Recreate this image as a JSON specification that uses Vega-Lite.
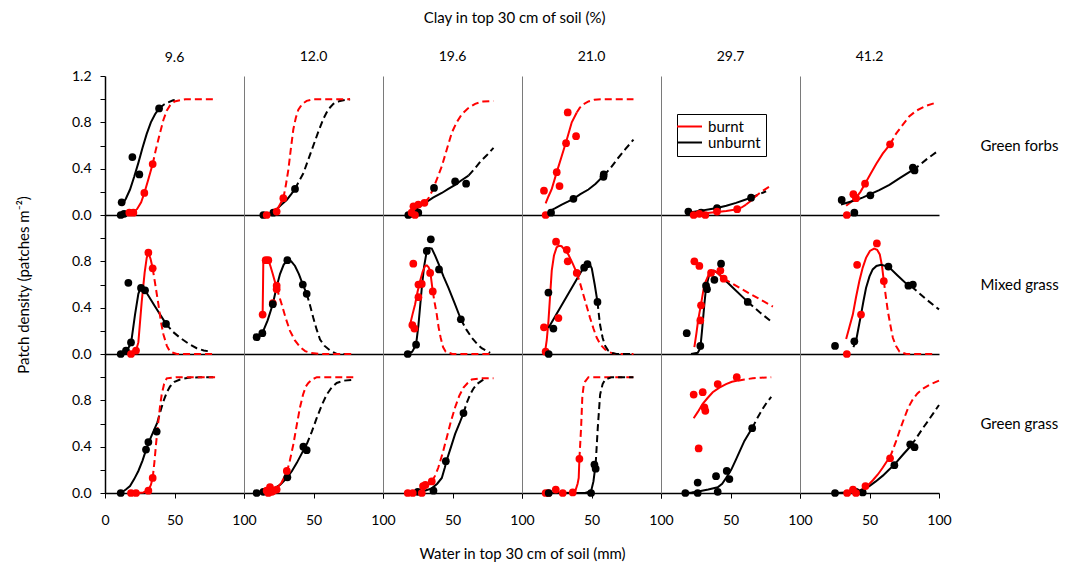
{
"$schema":"https://vega.github.io/schema/vega-lite/v6.json",
"padding":{"left":16,"top":11,"right":5,"bottom":5},
"config":{
 "font":"Lato",
 "view":{"stroke":null},
 "range":{"category":["#ff0000","#000000"]},
 "axis":{"grid":false,"domainColor":"#000000","domainWidth":1.5,"tickColor":"#000000","tickSize":5,"tickWidth":1,"labelFontSize":14,"labelColor":"#000000","labelFlush":false,"titleFontSize":15,"titleFontWeight":"normal","titleColor":"#000000"},
 "title":{"fontSize":14,"fontWeight":"normal","color":"#000000"},
 "legend":{"orient":"none","legendX":572,"legendY":38,"strokeColor":"#000000","fillColor":"#ffffff","padding":5,"labelFontSize":15,"labelColor":"#000000","symbolType":"M-2,0H2","symbolSize":156,"symbolStrokeWidth":2,"rowPadding":-2,"labelOffset":11,"cornerRadius":0}
},
"datasets":{
"forbs96":[
{"fire":"unburnt","kind":"point","w":11.3,"d":0},{"fire":"unburnt","kind":"point","w":13.7,"d":0.01},{"fire":"unburnt","kind":"point","w":12,"d":0.11},{"fire":"unburnt","kind":"point","w":19.7,"d":0.5},{"fire":"unburnt","kind":"point","w":24.7,"d":0.35},{"fire":"unburnt","kind":"point","w":38.9,"d":0.92},
{"fire":"burnt","kind":"point","w":17.5,"d":0.02},{"fire":"burnt","kind":"point","w":20.4,"d":0.02},{"fire":"burnt","kind":"point","w":28.3,"d":0.19},{"fire":"burnt","kind":"point","w":34.3,"d":0.44},
{"fire":"unburnt","kind":"fit","w":12,"d":0.08},{"fire":"unburnt","kind":"fit","w":15,"d":0.14},{"fire":"unburnt","kind":"fit","w":18,"d":0.22},{"fire":"unburnt","kind":"fit","w":21,"d":0.33},{"fire":"unburnt","kind":"fit","w":24,"d":0.45},{"fire":"unburnt","kind":"fit","w":27,"d":0.58},{"fire":"unburnt","kind":"fit","w":30,"d":0.7},{"fire":"unburnt","kind":"fit","w":33,"d":0.8},{"fire":"unburnt","kind":"fit","w":36,"d":0.87},{"fire":"unburnt","kind":"fit","w":38.9,"d":0.92},
{"fire":"unburnt","kind":"extrap","w":38.9,"d":0.92},{"fire":"unburnt","kind":"extrap","w":42,"d":0.95},{"fire":"unburnt","kind":"extrap","w":45,"d":0.97},{"fire":"unburnt","kind":"extrap","w":49,"d":0.99},{"fire":"unburnt","kind":"extrap","w":53,"d":1.0},
{"fire":"burnt","kind":"fit","w":17,"d":0.01},{"fire":"burnt","kind":"fit","w":20,"d":0.02},{"fire":"burnt","kind":"fit","w":23,"d":0.05},{"fire":"burnt","kind":"fit","w":26,"d":0.11},{"fire":"burnt","kind":"fit","w":28.3,"d":0.19},{"fire":"burnt","kind":"fit","w":31,"d":0.3},{"fire":"burnt","kind":"fit","w":34.3,"d":0.44},
{"fire":"burnt","kind":"extrap","w":34.3,"d":0.44},{"fire":"burnt","kind":"extrap","w":36.5,"d":0.56},{"fire":"burnt","kind":"extrap","w":39.6,"d":0.71},{"fire":"burnt","kind":"extrap","w":42,"d":0.82},{"fire":"burnt","kind":"extrap","w":44.4,"d":0.9},{"fire":"burnt","kind":"extrap","w":47,"d":0.95},{"fire":"burnt","kind":"extrap","w":50,"d":0.98},{"fire":"burnt","kind":"extrap","w":58,"d":1.0},{"fire":"burnt","kind":"extrap","w":80.5,"d":1.0}
],
"forbs120":[
{"fire":"unburnt","kind":"point","w":13.9,"d":0},{"fire":"unburnt","kind":"point","w":21.1,"d":0.02},{"fire":"unburnt","kind":"point","w":36.7,"d":0.225},
{"fire":"burnt","kind":"point","w":16.3,"d":0},{"fire":"burnt","kind":"point","w":23.5,"d":0.03},{"fire":"burnt","kind":"point","w":28.3,"d":0.145},
{"fire":"unburnt","kind":"fit","w":13.9,"d":0},{"fire":"unburnt","kind":"fit","w":18,"d":0.01},{"fire":"unburnt","kind":"fit","w":23.5,"d":0.05},{"fire":"unburnt","kind":"fit","w":27,"d":0.09},{"fire":"unburnt","kind":"fit","w":30.7,"d":0.13},{"fire":"unburnt","kind":"fit","w":34,"d":0.18},{"fire":"unburnt","kind":"fit","w":36.7,"d":0.225},
{"fire":"unburnt","kind":"extrap","w":36.7,"d":0.225},{"fire":"unburnt","kind":"extrap","w":39.5,"d":0.29},{"fire":"unburnt","kind":"extrap","w":42.7,"d":0.36},{"fire":"unburnt","kind":"extrap","w":46,"d":0.47},{"fire":"unburnt","kind":"extrap","w":49.9,"d":0.6},{"fire":"unburnt","kind":"extrap","w":53.5,"d":0.72},{"fire":"unburnt","kind":"extrap","w":57.1,"d":0.83},{"fire":"unburnt","kind":"extrap","w":60.5,"d":0.91},{"fire":"unburnt","kind":"extrap","w":64.3,"d":0.96},{"fire":"unburnt","kind":"extrap","w":69,"d":0.985},{"fire":"unburnt","kind":"extrap","w":76.3,"d":1.0},
{"fire":"burnt","kind":"fit","w":15.1,"d":0},{"fire":"burnt","kind":"fit","w":18,"d":0.01},{"fire":"burnt","kind":"fit","w":21.1,"d":0.02},{"fire":"burnt","kind":"fit","w":24.5,"d":0.06},{"fire":"burnt","kind":"fit","w":28.3,"d":0.145},
{"fire":"burnt","kind":"extrap","w":28.3,"d":0.145},{"fire":"burnt","kind":"extrap","w":30,"d":0.25},{"fire":"burnt","kind":"extrap","w":31.9,"d":0.39},{"fire":"burnt","kind":"extrap","w":33.7,"d":0.57},{"fire":"burnt","kind":"extrap","w":35.5,"d":0.74},{"fire":"burnt","kind":"extrap","w":37.3,"d":0.84},{"fire":"burnt","kind":"extrap","w":39.1,"d":0.91},{"fire":"burnt","kind":"extrap","w":42,"d":0.96},{"fire":"burnt","kind":"extrap","w":45.1,"d":0.985},{"fire":"burnt","kind":"extrap","w":50,"d":1.0},{"fire":"burnt","kind":"extrap","w":76.3,"d":1.0}
],
"forbs196":[
{"fire":"unburnt","kind":"point","w":18.2,"d":0},{"fire":"unburnt","kind":"point","w":21,"d":0.01},{"fire":"unburnt","kind":"point","w":25.4,"d":0.02},{"fire":"unburnt","kind":"point","w":36.7,"d":0.234},{"fire":"unburnt","kind":"point","w":51.9,"d":0.29},{"fire":"unburnt","kind":"point","w":59.8,"d":0.27},
{"fire":"burnt","kind":"point","w":21.9,"d":0.075},{"fire":"burnt","kind":"point","w":25.4,"d":0.09},{"fire":"burnt","kind":"point","w":29.8,"d":0.105},{"fire":"burnt","kind":"point","w":20.6,"d":0.02},{"fire":"burnt","kind":"point","w":23,"d":0},
{"fire":"unburnt","kind":"fit","w":18.2,"d":0},{"fire":"unburnt","kind":"fit","w":22,"d":0.04},{"fire":"unburnt","kind":"fit","w":26,"d":0.07},{"fire":"unburnt","kind":"fit","w":30.3,"d":0.105},{"fire":"unburnt","kind":"fit","w":36,"d":0.15},{"fire":"unburnt","kind":"fit","w":42.3,"d":0.19},{"fire":"unburnt","kind":"fit","w":47,"d":0.225},{"fire":"unburnt","kind":"fit","w":51.9,"d":0.26},{"fire":"unburnt","kind":"fit","w":56.5,"d":0.3},{"fire":"unburnt","kind":"fit","w":61.5,"d":0.34},
{"fire":"unburnt","kind":"extrap","w":61.5,"d":0.34},{"fire":"unburnt","kind":"extrap","w":66,"d":0.4},{"fire":"unburnt","kind":"extrap","w":70,"d":0.46},{"fire":"unburnt","kind":"extrap","w":75,"d":0.52},{"fire":"unburnt","kind":"extrap","w":79.5,"d":0.58},
{"fire":"burnt","kind":"fit","w":18,"d":0.01},{"fire":"burnt","kind":"fit","w":20.5,"d":0.03},{"fire":"burnt","kind":"fit","w":22,"d":0.06},{"fire":"burnt","kind":"fit","w":25,"d":0.08},{"fire":"burnt","kind":"fit","w":29.8,"d":0.11},
{"fire":"burnt","kind":"extrap","w":29.8,"d":0.11},{"fire":"burnt","kind":"extrap","w":32.5,"d":0.14},{"fire":"burnt","kind":"extrap","w":35.1,"d":0.2},{"fire":"burnt","kind":"extrap","w":38.5,"d":0.3},{"fire":"burnt","kind":"extrap","w":42.3,"d":0.42},{"fire":"burnt","kind":"extrap","w":46,"d":0.57},{"fire":"burnt","kind":"extrap","w":49.5,"d":0.71},{"fire":"burnt","kind":"extrap","w":53,"d":0.8},{"fire":"burnt","kind":"extrap","w":56.7,"d":0.87},{"fire":"burnt","kind":"extrap","w":61,"d":0.92},{"fire":"burnt","kind":"extrap","w":66.3,"d":0.96},{"fire":"burnt","kind":"extrap","w":72,"d":0.98},{"fire":"burnt","kind":"extrap","w":79.5,"d":0.985}
],
"forbs210":[
{"fire":"burnt","kind":"point","w":32.9,"d":0.885},{"fire":"burnt","kind":"point","w":38.9,"d":0.68},{"fire":"burnt","kind":"point","w":31.7,"d":0.62},{"fire":"burnt","kind":"point","w":25,"d":0.37},{"fire":"burnt","kind":"point","w":27,"d":0.25},{"fire":"burnt","kind":"point","w":15.8,"d":0.21},{"fire":"burnt","kind":"point","w":17,"d":0},
{"fire":"unburnt","kind":"point","w":20.9,"d":0.02},{"fire":"unburnt","kind":"point","w":37,"d":0.14},{"fire":"unburnt","kind":"point","w":58.8,"d":0.35},{"fire":"unburnt","kind":"point","w":58.6,"d":0.33},
{"fire":"burnt","kind":"fit","w":17,"d":0.1},{"fire":"burnt","kind":"fit","w":19,"d":0.16},{"fire":"burnt","kind":"fit","w":21.3,"d":0.22},{"fire":"burnt","kind":"fit","w":25,"d":0.37},{"fire":"burnt","kind":"fit","w":28.6,"d":0.51},{"fire":"burnt","kind":"fit","w":32.2,"d":0.65},{"fire":"burnt","kind":"fit","w":35.8,"d":0.8},{"fire":"burnt","kind":"fit","w":39.4,"d":0.885},
{"fire":"burnt","kind":"extrap","w":39.4,"d":0.885},{"fire":"burnt","kind":"extrap","w":41.5,"d":0.925},{"fire":"burnt","kind":"extrap","w":44,"d":0.955},{"fire":"burnt","kind":"extrap","w":47.8,"d":0.98},{"fire":"burnt","kind":"extrap","w":52,"d":0.995},{"fire":"burnt","kind":"extrap","w":57.4,"d":1.0},{"fire":"burnt","kind":"extrap","w":80.2,"d":1.0},
{"fire":"unburnt","kind":"fit","w":19,"d":0.03},{"fire":"unburnt","kind":"fit","w":24,"d":0.06},{"fire":"unburnt","kind":"fit","w":28.6,"d":0.09},{"fire":"unburnt","kind":"fit","w":33,"d":0.115},{"fire":"unburnt","kind":"fit","w":37,"d":0.14},{"fire":"unburnt","kind":"fit","w":42,"d":0.18},{"fire":"unburnt","kind":"fit","w":47.8,"d":0.22},{"fire":"unburnt","kind":"fit","w":53,"d":0.27},{"fire":"unburnt","kind":"fit","w":58.8,"d":0.34},
{"fire":"unburnt","kind":"extrap","w":58.8,"d":0.34},{"fire":"unburnt","kind":"extrap","w":64,"d":0.41},{"fire":"unburnt","kind":"extrap","w":69,"d":0.49},{"fire":"unburnt","kind":"extrap","w":74.5,"d":0.57},{"fire":"unburnt","kind":"extrap","w":80.2,"d":0.65}
],
"forbs297":[
{"fire":"unburnt","kind":"point","w":19.7,"d":0.03},{"fire":"unburnt","kind":"point","w":28.8,"d":0.02},{"fire":"unburnt","kind":"point","w":40.3,"d":0.06},{"fire":"unburnt","kind":"point","w":64.8,"d":0.15},
{"fire":"burnt","kind":"point","w":23.5,"d":0},{"fire":"burnt","kind":"point","w":27.6,"d":0.01},{"fire":"burnt","kind":"point","w":31.9,"d":0},{"fire":"burnt","kind":"point","w":40.3,"d":0.03},{"fire":"burnt","kind":"point","w":54.8,"d":0.05},
{"fire":"unburnt","kind":"fit","w":19.7,"d":0.02},{"fire":"unburnt","kind":"fit","w":25,"d":0.03},{"fire":"unburnt","kind":"fit","w":30,"d":0.04},{"fire":"unburnt","kind":"fit","w":35,"d":0.05},{"fire":"unburnt","kind":"fit","w":40.3,"d":0.06},{"fire":"unburnt","kind":"fit","w":47,"d":0.08},{"fire":"unburnt","kind":"fit","w":54,"d":0.105},{"fire":"unburnt","kind":"fit","w":60,"d":0.13},{"fire":"unburnt","kind":"fit","w":64.8,"d":0.15},
{"fire":"unburnt","kind":"extrap","w":64.8,"d":0.15},{"fire":"unburnt","kind":"extrap","w":70,"d":0.175},{"fire":"unburnt","kind":"extrap","w":75.6,"d":0.205},
{"fire":"burnt","kind":"fit","w":23.5,"d":0.01},{"fire":"burnt","kind":"fit","w":30,"d":0.015},{"fire":"burnt","kind":"fit","w":35,"d":0.02},{"fire":"burnt","kind":"fit","w":40.3,"d":0.025},{"fire":"burnt","kind":"fit","w":47,"d":0.035},{"fire":"burnt","kind":"fit","w":54.8,"d":0.05},{"fire":"burnt","kind":"fit","w":58,"d":0.065},{"fire":"burnt","kind":"fit","w":61.2,"d":0.09},
{"fire":"burnt","kind":"extrap","w":61.2,"d":0.09},{"fire":"burnt","kind":"extrap","w":65,"d":0.125},{"fire":"burnt","kind":"extrap","w":68.4,"d":0.165},{"fire":"burnt","kind":"extrap","w":72,"d":0.2},{"fire":"burnt","kind":"extrap","w":76,"d":0.23},{"fire":"burnt","kind":"extrap","w":79.3,"d":0.255}
],
"forbs412":[
{"fire":"burnt","kind":"point","w":64.8,"d":0.61},{"fire":"burnt","kind":"point","w":46.8,"d":0.27},{"fire":"burnt","kind":"point","w":38.4,"d":0.18},{"fire":"burnt","kind":"point","w":40.3,"d":0.145},{"fire":"burnt","kind":"point","w":33.7,"d":0},
{"fire":"unburnt","kind":"point","w":30,"d":0.13},{"fire":"unburnt","kind":"point","w":50.6,"d":0.17},{"fire":"unburnt","kind":"point","w":81.2,"d":0.41},{"fire":"unburnt","kind":"point","w":82.4,"d":0.385},{"fire":"unburnt","kind":"point","w":39.1,"d":0.02},
{"fire":"burnt","kind":"fit","w":33.2,"d":0.08},{"fire":"burnt","kind":"fit","w":36.5,"d":0.11},{"fire":"burnt","kind":"fit","w":40.3,"d":0.15},{"fire":"burnt","kind":"fit","w":43.5,"d":0.2},{"fire":"burnt","kind":"fit","w":46.8,"d":0.27},{"fire":"burnt","kind":"fit","w":50.5,"d":0.35},{"fire":"burnt","kind":"fit","w":54.8,"d":0.44},{"fire":"burnt","kind":"fit","w":59.5,"d":0.53},{"fire":"burnt","kind":"fit","w":64.8,"d":0.61},
{"fire":"burnt","kind":"extrap","w":64.8,"d":0.61},{"fire":"burnt","kind":"extrap","w":69,"d":0.7},{"fire":"burnt","kind":"extrap","w":74,"d":0.78},{"fire":"burnt","kind":"extrap","w":78.5,"d":0.85},{"fire":"burnt","kind":"extrap","w":83.6,"d":0.9},{"fire":"burnt","kind":"extrap","w":90,"d":0.94},{"fire":"burnt","kind":"extrap","w":98,"d":0.97},
{"fire":"unburnt","kind":"fit","w":29.5,"d":0.09},{"fire":"unburnt","kind":"fit","w":35,"d":0.11},{"fire":"unburnt","kind":"fit","w":40.3,"d":0.13},{"fire":"unburnt","kind":"fit","w":45,"d":0.15},{"fire":"unburnt","kind":"fit","w":50.6,"d":0.18},{"fire":"unburnt","kind":"fit","w":57,"d":0.215},{"fire":"unburnt","kind":"fit","w":64.3,"d":0.26},{"fire":"unburnt","kind":"fit","w":72,"d":0.32},{"fire":"unburnt","kind":"fit","w":81.2,"d":0.39},
{"fire":"unburnt","kind":"extrap","w":81.2,"d":0.39},{"fire":"unburnt","kind":"extrap","w":86,"d":0.43},{"fire":"unburnt","kind":"extrap","w":91,"d":0.48},{"fire":"unburnt","kind":"extrap","w":95.5,"d":0.52},{"fire":"unburnt","kind":"extrap","w":100,"d":0.56}
],
"mixed96":[
{"fire":"unburnt","kind":"point","w":11.3,"d":0},{"fire":"unburnt","kind":"point","w":15.1,"d":0.03},{"fire":"unburnt","kind":"point","w":18.7,"d":0.1},{"fire":"unburnt","kind":"point","w":16.8,"d":0.615},{"fire":"unburnt","kind":"point","w":25.9,"d":0.57},{"fire":"unburnt","kind":"point","w":28.8,"d":0.55},{"fire":"unburnt","kind":"point","w":43.9,"d":0.26},
{"fire":"burnt","kind":"point","w":18.7,"d":0},{"fire":"burnt","kind":"point","w":22.3,"d":0.03},{"fire":"burnt","kind":"point","w":31.2,"d":0.875},{"fire":"burnt","kind":"point","w":34.3,"d":0.74},
{"fire":"unburnt","kind":"fit","w":11.3,"d":0},{"fire":"unburnt","kind":"fit","w":15.1,"d":0.02},{"fire":"unburnt","kind":"fit","w":18.7,"d":0.09},{"fire":"unburnt","kind":"fit","w":21.6,"d":0.34},{"fire":"unburnt","kind":"fit","w":24,"d":0.52},{"fire":"unburnt","kind":"fit","w":25.6,"d":0.57},{"fire":"unburnt","kind":"fit","w":28.8,"d":0.55},{"fire":"unburnt","kind":"fit","w":36,"d":0.41},{"fire":"unburnt","kind":"fit","w":43.9,"d":0.26},
{"fire":"unburnt","kind":"extrap","w":43.9,"d":0.26},{"fire":"unburnt","kind":"extrap","w":49,"d":0.19},{"fire":"unburnt","kind":"extrap","w":54,"d":0.14},{"fire":"unburnt","kind":"extrap","w":60,"d":0.09},{"fire":"unburnt","kind":"extrap","w":66,"d":0.05},{"fire":"unburnt","kind":"extrap","w":71,"d":0.03},{"fire":"unburnt","kind":"extrap","w":76.8,"d":0.02},
{"fire":"burnt","kind":"fit","w":18.7,"d":0},{"fire":"burnt","kind":"fit","w":22.3,"d":0.03},{"fire":"burnt","kind":"fit","w":24,"d":0.1},{"fire":"burnt","kind":"fit","w":26.4,"d":0.45},{"fire":"burnt","kind":"fit","w":28.5,"d":0.7},{"fire":"burnt","kind":"fit","w":30,"d":0.83},{"fire":"burnt","kind":"fit","w":31.2,"d":0.875},{"fire":"burnt","kind":"fit","w":32.8,"d":0.82},{"fire":"burnt","kind":"fit","w":34.3,"d":0.74},
{"fire":"burnt","kind":"extrap","w":34.3,"d":0.74},{"fire":"burnt","kind":"extrap","w":36.3,"d":0.59},{"fire":"burnt","kind":"extrap","w":38.4,"d":0.43},{"fire":"burnt","kind":"extrap","w":40.2,"d":0.28},{"fire":"burnt","kind":"extrap","w":42,"d":0.17},{"fire":"burnt","kind":"extrap","w":44.5,"d":0.07},{"fire":"burnt","kind":"extrap","w":46.8,"d":0.02},{"fire":"burnt","kind":"extrap","w":51.6,"d":0},{"fire":"burnt","kind":"extrap","w":78,"d":0}
],
"mixed120":[
{"fire":"burnt","kind":"point","w":15.6,"d":0.81},{"fire":"burnt","kind":"point","w":17.5,"d":0.81},{"fire":"burnt","kind":"point","w":13.4,"d":0.34},{"fire":"burnt","kind":"point","w":20.7,"d":0.44},{"fire":"burnt","kind":"point","w":23.5,"d":0.59},{"fire":"burnt","kind":"point","w":23.5,"d":0.56},
{"fire":"unburnt","kind":"point","w":9.1,"d":0.145},{"fire":"unburnt","kind":"point","w":13.2,"d":0.18},{"fire":"unburnt","kind":"point","w":20.7,"d":0.43},{"fire":"unburnt","kind":"point","w":31.2,"d":0.81},{"fire":"unburnt","kind":"point","w":42.3,"d":0.6},{"fire":"unburnt","kind":"point","w":45.1,"d":0.52},
{"fire":"unburnt","kind":"fit","w":9.1,"d":0.145},{"fire":"unburnt","kind":"fit","w":13.2,"d":0.18},{"fire":"unburnt","kind":"fit","w":17,"d":0.29},{"fire":"unburnt","kind":"fit","w":20.7,"d":0.43},{"fire":"unburnt","kind":"fit","w":23.5,"d":0.58},{"fire":"unburnt","kind":"fit","w":25.9,"d":0.69},{"fire":"unburnt","kind":"fit","w":28.5,"d":0.77},{"fire":"unburnt","kind":"fit","w":31.2,"d":0.81},{"fire":"unburnt","kind":"fit","w":34,"d":0.8},{"fire":"unburnt","kind":"fit","w":36.7,"d":0.76},{"fire":"unburnt","kind":"fit","w":39.5,"d":0.69},{"fire":"unburnt","kind":"fit","w":42.3,"d":0.6},{"fire":"unburnt","kind":"fit","w":45.1,"d":0.52},
{"fire":"unburnt","kind":"extrap","w":45.1,"d":0.52},{"fire":"unburnt","kind":"extrap","w":47.5,"d":0.42},{"fire":"unburnt","kind":"extrap","w":49.9,"d":0.31},{"fire":"unburnt","kind":"extrap","w":52.3,"d":0.21},{"fire":"unburnt","kind":"extrap","w":54.7,"d":0.125},{"fire":"unburnt","kind":"extrap","w":58,"d":0.07},{"fire":"unburnt","kind":"extrap","w":61.9,"d":0.03},{"fire":"unburnt","kind":"extrap","w":66.7,"d":0},{"fire":"unburnt","kind":"extrap","w":78.9,"d":0},
{"fire":"burnt","kind":"fit","w":13.4,"d":0.34},{"fire":"burnt","kind":"fit","w":13.7,"d":0.6},{"fire":"burnt","kind":"fit","w":13.9,"d":0.81},{"fire":"burnt","kind":"fit","w":17.5,"d":0.81},{"fire":"burnt","kind":"fit","w":19,"d":0.76},{"fire":"burnt","kind":"fit","w":20.7,"d":0.69},{"fire":"burnt","kind":"fit","w":23.5,"d":0.57},
{"fire":"burnt","kind":"extrap","w":23.5,"d":0.57},{"fire":"burnt","kind":"extrap","w":25.3,"d":0.5},{"fire":"burnt","kind":"extrap","w":27.1,"d":0.43},{"fire":"burnt","kind":"extrap","w":30,"d":0.31},{"fire":"burnt","kind":"extrap","w":33.1,"d":0.2},{"fire":"burnt","kind":"extrap","w":36.5,"d":0.12},{"fire":"burnt","kind":"extrap","w":40.3,"d":0.06},{"fire":"burnt","kind":"extrap","w":44,"d":0.025},{"fire":"burnt","kind":"extrap","w":47.5,"d":0.01},{"fire":"burnt","kind":"extrap","w":55,"d":0},{"fire":"burnt","kind":"extrap","w":78.9,"d":0}
],
"mixed196":[
{"fire":"unburnt","kind":"point","w":17.8,"d":0},{"fire":"unburnt","kind":"point","w":23.8,"d":0.08},{"fire":"unburnt","kind":"point","w":31.5,"d":0.89},{"fire":"unburnt","kind":"point","w":34.4,"d":0.99},{"fire":"unburnt","kind":"point","w":40.3,"d":0.73},{"fire":"unburnt","kind":"point","w":56,"d":0.3},
{"fire":"burnt","kind":"point","w":21.8,"d":0.78},{"fire":"burnt","kind":"point","w":21.1,"d":0.25},{"fire":"burnt","kind":"point","w":22.6,"d":0.22},{"fire":"burnt","kind":"point","w":25.5,"d":0.49},{"fire":"burnt","kind":"point","w":25.5,"d":0.6},{"fire":"burnt","kind":"point","w":27.9,"d":0.605},{"fire":"burnt","kind":"point","w":33.9,"d":0.7},{"fire":"burnt","kind":"point","w":35.8,"d":0.54},
{"fire":"unburnt","kind":"fit","w":17.8,"d":0},{"fire":"unburnt","kind":"fit","w":21,"d":0.02},{"fire":"unburnt","kind":"fit","w":23.8,"d":0.08},{"fire":"unburnt","kind":"fit","w":25.5,"d":0.25},{"fire":"unburnt","kind":"fit","w":27.9,"d":0.57},{"fire":"unburnt","kind":"fit","w":29.5,"d":0.75},{"fire":"unburnt","kind":"fit","w":31.5,"d":0.89},{"fire":"unburnt","kind":"fit","w":33.3,"d":0.915},{"fire":"unburnt","kind":"fit","w":35.1,"d":0.91},{"fire":"unburnt","kind":"fit","w":37.5,"d":0.85},{"fire":"unburnt","kind":"fit","w":40.3,"d":0.77},{"fire":"unburnt","kind":"fit","w":43.5,"d":0.67},{"fire":"unburnt","kind":"fit","w":47.1,"d":0.57},{"fire":"unburnt","kind":"fit","w":51.5,"d":0.44},{"fire":"unburnt","kind":"fit","w":56,"d":0.3},
{"fire":"unburnt","kind":"extrap","w":56,"d":0.3},{"fire":"unburnt","kind":"extrap","w":60,"d":0.21},{"fire":"unburnt","kind":"extrap","w":63.9,"d":0.14},{"fire":"unburnt","kind":"extrap","w":67.5,"d":0.09},{"fire":"unburnt","kind":"extrap","w":71,"d":0.05},{"fire":"unburnt","kind":"extrap","w":77.1,"d":0.01},
{"fire":"burnt","kind":"fit","w":19.4,"d":0.25},{"fire":"burnt","kind":"fit","w":21.2,"d":0.34},{"fire":"burnt","kind":"fit","w":23.1,"d":0.43},{"fire":"burnt","kind":"fit","w":24.9,"d":0.54},{"fire":"burnt","kind":"fit","w":26.7,"d":0.63},{"fire":"burnt","kind":"fit","w":28.5,"d":0.71},{"fire":"burnt","kind":"fit","w":30.3,"d":0.76},{"fire":"burnt","kind":"fit","w":31.5,"d":0.765},{"fire":"burnt","kind":"fit","w":32.7,"d":0.75},{"fire":"burnt","kind":"fit","w":33.9,"d":0.72},{"fire":"burnt","kind":"fit","w":35.8,"d":0.54},
{"fire":"burnt","kind":"extrap","w":35.8,"d":0.54},{"fire":"burnt","kind":"extrap","w":37.2,"d":0.44},{"fire":"burnt","kind":"extrap","w":38.7,"d":0.34},{"fire":"burnt","kind":"extrap","w":40,"d":0.23},{"fire":"burnt","kind":"extrap","w":41.5,"d":0.14},{"fire":"burnt","kind":"extrap","w":43.2,"d":0.06},{"fire":"burnt","kind":"extrap","w":45.1,"d":0.02},{"fire":"burnt","kind":"extrap","w":49.9,"d":0},{"fire":"burnt","kind":"extrap","w":77.1,"d":0}
],
"mixed210":[
{"fire":"burnt","kind":"point","w":24.5,"d":0.97},{"fire":"burnt","kind":"point","w":32.2,"d":0.9},{"fire":"burnt","kind":"point","w":32.9,"d":0.8},{"fire":"burnt","kind":"point","w":39.4,"d":0.7},{"fire":"burnt","kind":"point","w":26.2,"d":0.31},{"fire":"burnt","kind":"point","w":15.8,"d":0.23},{"fire":"burnt","kind":"point","w":17,"d":0.02},
{"fire":"unburnt","kind":"point","w":19,"d":0.53},{"fire":"unburnt","kind":"point","w":22.6,"d":0.22},{"fire":"unburnt","kind":"point","w":19.2,"d":0},{"fire":"unburnt","kind":"point","w":44.7,"d":0.745},{"fire":"unburnt","kind":"point","w":47.1,"d":0.775},{"fire":"unburnt","kind":"point","w":54.3,"d":0.45},
{"fire":"burnt","kind":"fit","w":16.6,"d":0.02},{"fire":"burnt","kind":"fit","w":17.8,"d":0.12},{"fire":"burnt","kind":"fit","w":19,"d":0.28},{"fire":"burnt","kind":"fit","w":20.2,"d":0.5},{"fire":"burnt","kind":"fit","w":21.4,"d":0.72},{"fire":"burnt","kind":"fit","w":23,"d":0.85},{"fire":"burnt","kind":"fit","w":24.9,"d":0.92},{"fire":"burnt","kind":"fit","w":26.5,"d":0.935},{"fire":"burnt","kind":"fit","w":28.5,"d":0.93},{"fire":"burnt","kind":"fit","w":31,"d":0.895},{"fire":"burnt","kind":"fit","w":33.3,"d":0.86},{"fire":"burnt","kind":"fit","w":36.5,"d":0.78},{"fire":"burnt","kind":"fit","w":39.4,"d":0.7},
{"fire":"burnt","kind":"extrap","w":39.4,"d":0.7},{"fire":"burnt","kind":"extrap","w":41.8,"d":0.61},{"fire":"burnt","kind":"extrap","w":44.2,"d":0.51},{"fire":"burnt","kind":"extrap","w":46.6,"d":0.41},{"fire":"burnt","kind":"extrap","w":49,"d":0.31},{"fire":"burnt","kind":"extrap","w":51.4,"d":0.22},{"fire":"burnt","kind":"extrap","w":53.8,"d":0.14},{"fire":"burnt","kind":"extrap","w":56.5,"d":0.08},{"fire":"burnt","kind":"extrap","w":59.8,"d":0.04},{"fire":"burnt","kind":"extrap","w":63,"d":0.015},{"fire":"burnt","kind":"extrap","w":67,"d":0},{"fire":"burnt","kind":"extrap","w":80.2,"d":0},
{"fire":"unburnt","kind":"fit","w":19,"d":0.225},{"fire":"unburnt","kind":"fit","w":44.2,"d":0.745},{"fire":"unburnt","kind":"fit","w":45.5,"d":0.775},{"fire":"unburnt","kind":"fit","w":47.1,"d":0.79},{"fire":"unburnt","kind":"fit","w":48.7,"d":0.775},{"fire":"unburnt","kind":"fit","w":50.2,"d":0.74},{"fire":"unburnt","kind":"fit","w":52.3,"d":0.6},{"fire":"unburnt","kind":"fit","w":54.3,"d":0.45},
{"fire":"unburnt","kind":"extrap","w":54.3,"d":0.45},{"fire":"unburnt","kind":"extrap","w":55.2,"d":0.35},{"fire":"unburnt","kind":"extrap","w":56.2,"d":0.25},{"fire":"unburnt","kind":"extrap","w":58,"d":0.14},{"fire":"unburnt","kind":"extrap","w":59.8,"d":0.07},{"fire":"unburnt","kind":"extrap","w":62,"d":0.03},{"fire":"unburnt","kind":"extrap","w":64.6,"d":0.01},{"fire":"unburnt","kind":"extrap","w":68,"d":0},{"fire":"unburnt","kind":"extrap","w":79,"d":0}
],
"mixed297":[
{"fire":"burnt","kind":"point","w":24,"d":0.8},{"fire":"burnt","kind":"point","w":27.6,"d":0.76},{"fire":"burnt","kind":"point","w":28.8,"d":0.42},{"fire":"burnt","kind":"point","w":28.3,"d":0.29},{"fire":"burnt","kind":"point","w":36,"d":0.7},{"fire":"burnt","kind":"point","w":42.7,"d":0.72},{"fire":"burnt","kind":"point","w":45.1,"d":0.65},
{"fire":"unburnt","kind":"point","w":18.5,"d":0.18},{"fire":"unburnt","kind":"point","w":28.3,"d":0.07},{"fire":"unburnt","kind":"point","w":32.4,"d":0.59},{"fire":"unburnt","kind":"point","w":33.1,"d":0.56},{"fire":"unburnt","kind":"point","w":38.4,"d":0.64},{"fire":"unburnt","kind":"point","w":43.2,"d":0.78},{"fire":"unburnt","kind":"point","w":62.4,"d":0.45},
{"fire":"unburnt","kind":"fit","w":21.6,"d":0},{"fire":"unburnt","kind":"fit","w":26.4,"d":0.01},{"fire":"unburnt","kind":"fit","w":28.3,"d":0.05},{"fire":"unburnt","kind":"fit","w":29.5,"d":0.2},{"fire":"unburnt","kind":"fit","w":31.2,"d":0.43},{"fire":"unburnt","kind":"fit","w":32.4,"d":0.57},{"fire":"unburnt","kind":"fit","w":34.8,"d":0.69},{"fire":"unburnt","kind":"fit","w":37.7,"d":0.72},{"fire":"unburnt","kind":"fit","w":40.8,"d":0.7},{"fire":"unburnt","kind":"fit","w":51,"d":0.58},{"fire":"unburnt","kind":"fit","w":62.4,"d":0.45},
{"fire":"unburnt","kind":"extrap","w":62.4,"d":0.45},{"fire":"unburnt","kind":"extrap","w":71,"d":0.36},{"fire":"unburnt","kind":"extrap","w":80.5,"d":0.27},
{"fire":"burnt","kind":"fit","w":24,"d":0.06},{"fire":"burnt","kind":"fit","w":25.5,"d":0.18},{"fire":"burnt","kind":"fit","w":26.7,"d":0.29},{"fire":"burnt","kind":"fit","w":28.8,"d":0.43},{"fire":"burnt","kind":"fit","w":31.2,"d":0.6},{"fire":"burnt","kind":"fit","w":34.8,"d":0.7},{"fire":"burnt","kind":"fit","w":38.4,"d":0.72},{"fire":"burnt","kind":"fit","w":41.5,"d":0.69},{"fire":"burnt","kind":"fit","w":45.1,"d":0.65},
{"fire":"burnt","kind":"extrap","w":45.1,"d":0.65},{"fire":"burnt","kind":"extrap","w":62.5,"d":0.53},{"fire":"burnt","kind":"extrap","w":80.5,"d":0.41}
],
"mixed412":[
{"fire":"burnt","kind":"point","w":55.3,"d":0.955},{"fire":"burnt","kind":"point","w":41.1,"d":0.77},{"fire":"burnt","kind":"point","w":60.3,"d":0.63},{"fire":"burnt","kind":"point","w":43.9,"d":0.34},{"fire":"burnt","kind":"point","w":33.7,"d":0},
{"fire":"unburnt","kind":"point","w":25.2,"d":0.07},{"fire":"unburnt","kind":"point","w":39.1,"d":0.11},{"fire":"unburnt","kind":"point","w":63.6,"d":0.755},{"fire":"unburnt","kind":"point","w":78,"d":0.59},{"fire":"unburnt","kind":"point","w":81.2,"d":0.6},
{"fire":"burnt","kind":"fit","w":33.2,"d":0.13},{"fire":"burnt","kind":"fit","w":35.5,"d":0.23},{"fire":"burnt","kind":"fit","w":38,"d":0.34},{"fire":"burnt","kind":"fit","w":40.3,"d":0.49},{"fire":"burnt","kind":"fit","w":42.7,"d":0.63},{"fire":"burnt","kind":"fit","w":45,"d":0.74},{"fire":"burnt","kind":"fit","w":47.5,"d":0.83},{"fire":"burnt","kind":"fit","w":50.3,"d":0.89},{"fire":"burnt","kind":"fit","w":53.3,"d":0.91},{"fire":"burnt","kind":"fit","w":55.5,"d":0.9},{"fire":"burnt","kind":"fit","w":57.4,"d":0.86},{"fire":"burnt","kind":"fit","w":59,"d":0.76},{"fire":"burnt","kind":"fit","w":60.3,"d":0.63},
{"fire":"burnt","kind":"extrap","w":60.3,"d":0.63},{"fire":"burnt","kind":"extrap","w":61.7,"d":0.5},{"fire":"burnt","kind":"extrap","w":63.2,"d":0.37},{"fire":"burnt","kind":"extrap","w":65,"d":0.25},{"fire":"burnt","kind":"extrap","w":66.8,"d":0.14},{"fire":"burnt","kind":"extrap","w":69,"d":0.07},{"fire":"burnt","kind":"extrap","w":71.6,"d":0.02},{"fire":"burnt","kind":"extrap","w":76.4,"d":0},{"fire":"burnt","kind":"extrap","w":97.9,"d":0},
{"fire":"unburnt","kind":"fit","w":38.4,"d":0.06},{"fire":"unburnt","kind":"fit","w":40.3,"d":0.11},{"fire":"unburnt","kind":"fit","w":42,"d":0.22},{"fire":"unburnt","kind":"fit","w":43.9,"d":0.34},{"fire":"unburnt","kind":"fit","w":45.7,"d":0.46},{"fire":"unburnt","kind":"fit","w":47.5,"d":0.57},{"fire":"unburnt","kind":"fit","w":50,"d":0.67},{"fire":"unburnt","kind":"fit","w":52.3,"d":0.73},{"fire":"unburnt","kind":"fit","w":55,"d":0.76},{"fire":"unburnt","kind":"fit","w":58.3,"d":0.77},{"fire":"unburnt","kind":"fit","w":63.6,"d":0.755},{"fire":"unburnt","kind":"fit","w":70,"d":0.68},{"fire":"unburnt","kind":"fit","w":78,"d":0.59},{"fire":"unburnt","kind":"fit","w":80,"d":0.585},
{"fire":"unburnt","kind":"extrap","w":80,"d":0.585},{"fire":"unburnt","kind":"extrap","w":90,"d":0.48},{"fire":"unburnt","kind":"extrap","w":100,"d":0.385}
],
"grass96":[
{"fire":"unburnt","kind":"point","w":11.3,"d":0},{"fire":"unburnt","kind":"point","w":29.5,"d":0.375},{"fire":"unburnt","kind":"point","w":31.2,"d":0.44},{"fire":"unburnt","kind":"point","w":37.2,"d":0.53},
{"fire":"burnt","kind":"point","w":18.7,"d":0},{"fire":"burnt","kind":"point","w":22.3,"d":0},{"fire":"burnt","kind":"point","w":31.2,"d":0.02},{"fire":"burnt","kind":"point","w":34.3,"d":0.13},
{"fire":"unburnt","kind":"fit","w":11.3,"d":0},{"fire":"unburnt","kind":"fit","w":15,"d":0.03},{"fire":"unburnt","kind":"fit","w":18,"d":0.06},{"fire":"unburnt","kind":"fit","w":21,"d":0.12},{"fire":"unburnt","kind":"fit","w":24,"d":0.19},{"fire":"unburnt","kind":"fit","w":27,"d":0.28},{"fire":"unburnt","kind":"fit","w":30,"d":0.39},{"fire":"unburnt","kind":"fit","w":33,"d":0.48},{"fire":"unburnt","kind":"fit","w":35.5,"d":0.55},{"fire":"unburnt","kind":"fit","w":37.7,"d":0.61},
{"fire":"unburnt","kind":"extrap","w":37.7,"d":0.61},{"fire":"unburnt","kind":"extrap","w":40,"d":0.71},{"fire":"unburnt","kind":"extrap","w":42,"d":0.79},{"fire":"unburnt","kind":"extrap","w":44.5,"d":0.87},{"fire":"unburnt","kind":"extrap","w":46.8,"d":0.92},{"fire":"unburnt","kind":"extrap","w":50,"d":0.96},{"fire":"unburnt","kind":"extrap","w":54,"d":0.98},{"fire":"unburnt","kind":"extrap","w":60,"d":0.995},{"fire":"unburnt","kind":"extrap","w":68.4,"d":1.0},{"fire":"unburnt","kind":"extrap","w":79.2,"d":1.0},
{"fire":"burnt","kind":"fit","w":18.7,"d":0},{"fire":"burnt","kind":"fit","w":24,"d":0},{"fire":"burnt","kind":"fit","w":27.6,"d":0.005},{"fire":"burnt","kind":"fit","w":31.2,"d":0.025},{"fire":"burnt","kind":"fit","w":33,"d":0.07},{"fire":"burnt","kind":"fit","w":34.3,"d":0.13},
{"fire":"burnt","kind":"extrap","w":34.3,"d":0.13},{"fire":"burnt","kind":"extrap","w":35.5,"d":0.26},{"fire":"burnt","kind":"extrap","w":36.7,"d":0.42},{"fire":"burnt","kind":"extrap","w":37.6,"d":0.53},{"fire":"burnt","kind":"extrap","w":38.4,"d":0.62},{"fire":"burnt","kind":"extrap","w":39.6,"d":0.75},{"fire":"burnt","kind":"extrap","w":40.8,"d":0.85},{"fire":"burnt","kind":"extrap","w":42.5,"d":0.94},{"fire":"burnt","kind":"extrap","w":44.4,"d":0.99},{"fire":"burnt","kind":"extrap","w":51.6,"d":1.0},{"fire":"burnt","kind":"extrap","w":79.2,"d":1.0}
],
"grass120":[
{"fire":"unburnt","kind":"point","w":9.1,"d":0},{"fire":"unburnt","kind":"point","w":13.9,"d":0.01},{"fire":"unburnt","kind":"point","w":31.2,"d":0.135},{"fire":"unburnt","kind":"point","w":42.7,"d":0.4},{"fire":"unburnt","kind":"point","w":45.1,"d":0.37},
{"fire":"burnt","kind":"point","w":16.3,"d":0.02},{"fire":"burnt","kind":"point","w":18.7,"d":0.05},{"fire":"burnt","kind":"point","w":21.1,"d":0.02},{"fire":"burnt","kind":"point","w":23.5,"d":0.03},{"fire":"burnt","kind":"point","w":30.8,"d":0.19},{"fire":"burnt","kind":"point","w":17.5,"d":0},{"fire":"burnt","kind":"point","w":20,"d":0.01},
{"fire":"unburnt","kind":"fit","w":9.1,"d":0},{"fire":"unburnt","kind":"fit","w":14,"d":0.005},{"fire":"unburnt","kind":"fit","w":18.7,"d":0.02},{"fire":"unburnt","kind":"fit","w":22.5,"d":0.045},{"fire":"unburnt","kind":"fit","w":25.9,"d":0.07},{"fire":"unburnt","kind":"fit","w":28.5,"d":0.1},{"fire":"unburnt","kind":"fit","w":31.2,"d":0.135},{"fire":"unburnt","kind":"fit","w":34.5,"d":0.19},{"fire":"unburnt","kind":"fit","w":38,"d":0.26},{"fire":"unburnt","kind":"fit","w":41.5,"d":0.34},{"fire":"unburnt","kind":"fit","w":45.1,"d":0.42},
{"fire":"unburnt","kind":"extrap","w":45.1,"d":0.42},{"fire":"unburnt","kind":"extrap","w":48.8,"d":0.53},{"fire":"unburnt","kind":"extrap","w":52.4,"d":0.65},{"fire":"unburnt","kind":"extrap","w":56,"d":0.76},{"fire":"unburnt","kind":"extrap","w":59.5,"d":0.85},{"fire":"unburnt","kind":"extrap","w":63,"d":0.91},{"fire":"unburnt","kind":"extrap","w":66.7,"d":0.95},{"fire":"unburnt","kind":"extrap","w":72,"d":0.97},{"fire":"unburnt","kind":"extrap","w":79.9,"d":0.98},
{"fire":"burnt","kind":"fit","w":13.9,"d":0.01},{"fire":"burnt","kind":"fit","w":18.7,"d":0.02},{"fire":"burnt","kind":"fit","w":23.5,"d":0.04},{"fire":"burnt","kind":"fit","w":27,"d":0.09},{"fire":"burnt","kind":"fit","w":30.8,"d":0.18},
{"fire":"burnt","kind":"extrap","w":30.8,"d":0.18},{"fire":"burnt","kind":"extrap","w":33,"d":0.28},{"fire":"burnt","kind":"extrap","w":35.5,"d":0.42},{"fire":"burnt","kind":"extrap","w":38,"d":0.59},{"fire":"burnt","kind":"extrap","w":40.3,"d":0.74},{"fire":"burnt","kind":"extrap","w":42.5,"d":0.85},{"fire":"burnt","kind":"extrap","w":44.5,"d":0.92},{"fire":"burnt","kind":"extrap","w":46.3,"d":0.95},{"fire":"burnt","kind":"extrap","w":49,"d":0.98},{"fire":"burnt","kind":"extrap","w":52.4,"d":1.0},{"fire":"burnt","kind":"extrap","w":79.9,"d":1.0}
],
"grass196":[
{"fire":"unburnt","kind":"point","w":25,"d":0.01},{"fire":"unburnt","kind":"point","w":36.3,"d":0.02},{"fire":"unburnt","kind":"point","w":45.2,"d":0.275},{"fire":"unburnt","kind":"point","w":57.9,"d":0.69},
{"fire":"burnt","kind":"point","w":17.8,"d":0},{"fire":"burnt","kind":"point","w":21.4,"d":0},{"fire":"burnt","kind":"point","w":27.9,"d":0},{"fire":"burnt","kind":"point","w":28.8,"d":0.06},{"fire":"burnt","kind":"point","w":30.5,"d":0.07},{"fire":"burnt","kind":"point","w":35.1,"d":0.1},
{"fire":"unburnt","kind":"fit","w":23.1,"d":0.005},{"fire":"unburnt","kind":"fit","w":30,"d":0.02},{"fire":"unburnt","kind":"fit","w":35.1,"d":0.04},{"fire":"unburnt","kind":"fit","w":39,"d":0.08},{"fire":"unburnt","kind":"fit","w":42.3,"d":0.13},{"fire":"unburnt","kind":"fit","w":44.5,"d":0.22},{"fire":"unburnt","kind":"fit","w":46,"d":0.29},{"fire":"unburnt","kind":"fit","w":49,"d":0.4},{"fire":"unburnt","kind":"fit","w":51.9,"d":0.51},{"fire":"unburnt","kind":"fit","w":55,"d":0.6},{"fire":"unburnt","kind":"fit","w":57.9,"d":0.69},
{"fire":"unburnt","kind":"extrap","w":57.9,"d":0.69},{"fire":"unburnt","kind":"extrap","w":60.3,"d":0.78},{"fire":"unburnt","kind":"extrap","w":62.7,"d":0.85},{"fire":"unburnt","kind":"extrap","w":65,"d":0.9},{"fire":"unburnt","kind":"extrap","w":67.5,"d":0.94},{"fire":"unburnt","kind":"extrap","w":72.3,"d":0.98},
{"fire":"burnt","kind":"fit","w":17.8,"d":0},{"fire":"burnt","kind":"fit","w":22,"d":0},{"fire":"burnt","kind":"fit","w":27.9,"d":0.01},{"fire":"burnt","kind":"fit","w":31,"d":0.05},{"fire":"burnt","kind":"fit","w":35.1,"d":0.1},
{"fire":"burnt","kind":"extrap","w":35.1,"d":0.1},{"fire":"burnt","kind":"extrap","w":37.5,"d":0.15},{"fire":"burnt","kind":"extrap","w":39.8,"d":0.22},{"fire":"burnt","kind":"extrap","w":42.8,"d":0.34},{"fire":"burnt","kind":"extrap","w":45.9,"d":0.48},{"fire":"burnt","kind":"extrap","w":48.9,"d":0.62},{"fire":"burnt","kind":"extrap","w":51.9,"d":0.74},{"fire":"burnt","kind":"extrap","w":54.9,"d":0.84},{"fire":"burnt","kind":"extrap","w":57.9,"d":0.91},{"fire":"burnt","kind":"extrap","w":60.9,"d":0.95},{"fire":"burnt","kind":"extrap","w":63.9,"d":0.98},{"fire":"burnt","kind":"extrap","w":70,"d":0.99},{"fire":"burnt","kind":"extrap","w":79.5,"d":0.99}
],
"grass210":[
{"fire":"burnt","kind":"point","w":17,"d":0},{"fire":"burnt","kind":"point","w":19,"d":0},{"fire":"burnt","kind":"point","w":24.3,"d":0.03},{"fire":"burnt","kind":"point","w":29.3,"d":0},{"fire":"burnt","kind":"point","w":36.5,"d":0.005},{"fire":"burnt","kind":"point","w":41.3,"d":0.295},
{"fire":"unburnt","kind":"point","w":19.2,"d":0},{"fire":"unburnt","kind":"point","w":49.7,"d":0},{"fire":"unburnt","kind":"point","w":52.1,"d":0.245},{"fire":"unburnt","kind":"point","w":53,"d":0.21},
{"fire":"burnt","kind":"fit","w":17,"d":0},{"fire":"burnt","kind":"fit","w":30,"d":0},{"fire":"burnt","kind":"fit","w":36,"d":0.005},{"fire":"burnt","kind":"fit","w":38.4,"d":0.02},{"fire":"burnt","kind":"fit","w":40,"d":0.08},{"fire":"burnt","kind":"fit","w":40.8,"d":0.13},{"fire":"burnt","kind":"fit","w":41.3,"d":0.295},
{"fire":"burnt","kind":"extrap","w":41.3,"d":0.295},{"fire":"burnt","kind":"extrap","w":42.5,"d":0.56},{"fire":"burnt","kind":"extrap","w":43.4,"d":0.83},{"fire":"burnt","kind":"extrap","w":44.3,"d":0.92},{"fire":"burnt","kind":"extrap","w":45.3,"d":0.96},{"fire":"burnt","kind":"extrap","w":47.8,"d":1.0},{"fire":"burnt","kind":"extrap","w":80.2,"d":1.0},
{"fire":"unburnt","kind":"fit","w":19,"d":0},{"fire":"unburnt","kind":"fit","w":45.3,"d":0},{"fire":"unburnt","kind":"fit","w":49.7,"d":0.015},{"fire":"unburnt","kind":"fit","w":51.4,"d":0.1},{"fire":"unburnt","kind":"fit","w":53,"d":0.25},
{"fire":"unburnt","kind":"extrap","w":53,"d":0.25},{"fire":"unburnt","kind":"extrap","w":54.5,"d":0.56},{"fire":"unburnt","kind":"extrap","w":56.2,"d":0.85},{"fire":"unburnt","kind":"extrap","w":58,"d":0.94},{"fire":"unburnt","kind":"extrap","w":59.8,"d":0.98},{"fire":"unburnt","kind":"extrap","w":64.6,"d":1.0},{"fire":"unburnt","kind":"extrap","w":80.2,"d":1.0}
],
"grass297":[
{"fire":"burnt","kind":"point","w":23.5,"d":0.85},{"fire":"burnt","kind":"point","w":30,"d":0.87},{"fire":"burnt","kind":"point","w":40.8,"d":0.94},{"fire":"burnt","kind":"point","w":54.5,"d":1.0},{"fire":"burnt","kind":"point","w":31.2,"d":0.74},{"fire":"burnt","kind":"point","w":31.9,"d":0.71},{"fire":"burnt","kind":"point","w":27.1,"d":0.385},
{"fire":"unburnt","kind":"point","w":17.5,"d":0},{"fire":"unburnt","kind":"point","w":26.4,"d":0},{"fire":"unburnt","kind":"point","w":40.8,"d":0.01},{"fire":"unburnt","kind":"point","w":26.4,"d":0.09},{"fire":"unburnt","kind":"point","w":39.6,"d":0.145},{"fire":"unburnt","kind":"point","w":47.3,"d":0.19},{"fire":"unburnt","kind":"point","w":49.2,"d":0.12},{"fire":"unburnt","kind":"point","w":65.6,"d":0.56},
{"fire":"burnt","kind":"fit","w":23.5,"d":0.645},{"fire":"burnt","kind":"fit","w":26.5,"d":0.7},{"fire":"burnt","kind":"fit","w":30,"d":0.77},{"fire":"burnt","kind":"fit","w":33.5,"d":0.82},{"fire":"burnt","kind":"fit","w":37.2,"d":0.87},{"fire":"burnt","kind":"fit","w":42,"d":0.91},{"fire":"burnt","kind":"fit","w":46.8,"d":0.94},{"fire":"burnt","kind":"fit","w":51,"d":0.96},{"fire":"burnt","kind":"fit","w":55.3,"d":0.97},
{"fire":"burnt","kind":"extrap","w":55.3,"d":0.97},{"fire":"burnt","kind":"extrap","w":60,"d":0.98},{"fire":"burnt","kind":"extrap","w":66,"d":0.99},{"fire":"burnt","kind":"extrap","w":72,"d":0.995},{"fire":"burnt","kind":"extrap","w":79.3,"d":1.0},
{"fire":"unburnt","kind":"fit","w":17.5,"d":0},{"fire":"unburnt","kind":"fit","w":22,"d":0.005},{"fire":"unburnt","kind":"fit","w":27.6,"d":0.015},{"fire":"unburnt","kind":"fit","w":34,"d":0.03},{"fire":"unburnt","kind":"fit","w":40.8,"d":0.05},{"fire":"unburnt","kind":"fit","w":44,"d":0.08},{"fire":"unburnt","kind":"fit","w":46.8,"d":0.13},{"fire":"unburnt","kind":"fit","w":50.5,"d":0.2},{"fire":"unburnt","kind":"fit","w":54,"d":0.29},{"fire":"unburnt","kind":"fit","w":57,"d":0.37},{"fire":"unburnt","kind":"fit","w":60,"d":0.45},{"fire":"unburnt","kind":"fit","w":63,"d":0.51},{"fire":"unburnt","kind":"fit","w":65.6,"d":0.56},
{"fire":"unburnt","kind":"extrap","w":65.6,"d":0.56},{"fire":"unburnt","kind":"extrap","w":69,"d":0.64},{"fire":"unburnt","kind":"extrap","w":72.8,"d":0.72},{"fire":"unburnt","kind":"extrap","w":76,"d":0.78},{"fire":"unburnt","kind":"extrap","w":79.3,"d":0.83}
],
"grass412":[
{"fire":"unburnt","kind":"point","w":25.2,"d":0},{"fire":"unburnt","kind":"point","w":40.3,"d":0.01},{"fire":"unburnt","kind":"point","w":45.1,"d":0.005},{"fire":"unburnt","kind":"point","w":67.9,"d":0.24},{"fire":"unburnt","kind":"point","w":79.3,"d":0.42},{"fire":"unburnt","kind":"point","w":82.4,"d":0.395},
{"fire":"burnt","kind":"point","w":33.9,"d":0},{"fire":"burnt","kind":"point","w":38.1,"d":0.03},{"fire":"burnt","kind":"point","w":40.3,"d":0},{"fire":"burnt","kind":"point","w":47.1,"d":0.06},{"fire":"burnt","kind":"point","w":64.8,"d":0.3},
{"fire":"unburnt","kind":"fit","w":25.2,"d":0},{"fire":"unburnt","kind":"fit","w":33,"d":0.005},{"fire":"unburnt","kind":"fit","w":40.3,"d":0.01},{"fire":"unburnt","kind":"fit","w":45,"d":0.03},{"fire":"unburnt","kind":"fit","w":49.9,"d":0.06},{"fire":"unburnt","kind":"fit","w":54.5,"d":0.1},{"fire":"unburnt","kind":"fit","w":59.6,"d":0.15},{"fire":"unburnt","kind":"fit","w":64,"d":0.2},{"fire":"unburnt","kind":"fit","w":67.9,"d":0.245},{"fire":"unburnt","kind":"fit","w":74,"d":0.33},{"fire":"unburnt","kind":"fit","w":80,"d":0.41},
{"fire":"unburnt","kind":"extrap","w":80,"d":0.41},{"fire":"unburnt","kind":"extrap","w":84,"d":0.48},{"fire":"unburnt","kind":"extrap","w":88.4,"d":0.56},{"fire":"unburnt","kind":"extrap","w":92,"d":0.62},{"fire":"unburnt","kind":"extrap","w":96,"d":0.69},{"fire":"unburnt","kind":"extrap","w":100,"d":0.76},
{"fire":"burnt","kind":"fit","w":33.9,"d":0},{"fire":"burnt","kind":"fit","w":40,"d":0.01},{"fire":"burnt","kind":"fit","w":45.1,"d":0.03},{"fire":"burnt","kind":"fit","w":48.8,"d":0.065},{"fire":"burnt","kind":"fit","w":52.4,"d":0.11},{"fire":"burnt","kind":"fit","w":56,"d":0.16},{"fire":"burnt","kind":"fit","w":59.6,"d":0.22},{"fire":"burnt","kind":"fit","w":62.3,"d":0.27},{"fire":"burnt","kind":"fit","w":64.8,"d":0.31},
{"fire":"burnt","kind":"extrap","w":64.8,"d":0.31},{"fire":"burnt","kind":"extrap","w":67,"d":0.38},{"fire":"burnt","kind":"extrap","w":69.2,"d":0.45},{"fire":"burnt","kind":"extrap","w":72,"d":0.55},{"fire":"burnt","kind":"extrap","w":75.1,"d":0.65},{"fire":"burnt","kind":"extrap","w":78,"d":0.74},{"fire":"burnt","kind":"extrap","w":81.2,"d":0.81},{"fire":"burnt","kind":"extrap","w":84.5,"d":0.86},{"fire":"burnt","kind":"extrap","w":88.4,"d":0.9},{"fire":"burnt","kind":"extrap","w":94,"d":0.94},{"fire":"burnt","kind":"extrap","w":100,"d":0.97}
]
},
"title":{"text":"Clay in top 30 cm of soil (%)","anchor":"middle","frame":"bounds","dx":-23,"fontSize":15,"offset":24},
"columns":7,
"spacing":0,
"bounds":"flush",
"concat":[
  {"width":139,"height":139,"data":{"name":"forbs96"},"title":{"text":"9.6","offset":4},
   "encoding":{"x":{"field":"w","type":"quantitative","scale":{"domain":[0,100],"nice":false},"axis":{"labels":false,"ticks":false,"title":null}},
    "y":{"field":"d","type":"quantitative","scale":{"domain":[0,1.2],"nice":false},"axis":{"values":[0,0.2,0.4,0.6,0.8,1,1.2],"labelExpr":"indexof(['0.0','0.4','0.8','1.2'],format(datum.value,'.1f'))>=0?format(datum.value,'.1f'):''","title":null,"labelPadding":9}}},
   "layer":[
    {"data":{"values":[{}]},"mark":{"type":"rule","color":"#7a7a7a","strokeWidth":1},"encoding":{"x":{"datum":0},"x2":{"datum":100},"y":{"datum":1.2}}},
    {"transform":[{"filter":"datum.kind=='fit'"}],"mark":{"type":"line","strokeWidth":2},"encoding":{"stroke":{"field":"fire","type":"nominal","title":null}}},
    {"transform":[{"filter":"datum.kind=='extrap'"}],"mark":{"type":"line","strokeWidth":2,"strokeDash":[7,4]},"encoding":{"stroke":{"field":"fire","type":"nominal","title":null}}},
    {"transform":[{"filter":"datum.kind=='point'"}],"mark":{"type":"point","filled":true,"size":60,"opacity":1},"encoding":{"fill":{"field":"fire","type":"nominal","legend":null}}}]},
  {"width":139,"height":139,"data":{"name":"forbs120"},"title":{"text":"12.0","offset":12},
   "encoding":{"x":{"field":"w","type":"quantitative","scale":{"domain":[0,100],"nice":false},"axis":{"labels":false,"ticks":false,"title":null}},
    "y":{"field":"d","type":"quantitative","scale":{"domain":[0,1.2],"nice":false},"axis":{"labels":false,"ticks":false,"title":null,"domainColor":"#7a7a7a","domainWidth":1}}},
   "layer":[
    {"data":{"values":[{}]},"mark":{"type":"rule","color":"#7a7a7a","strokeWidth":1},"encoding":{"x":{"datum":0},"x2":{"datum":100},"y":{"datum":1.2}}},
    {"transform":[{"filter":"datum.kind=='fit'"}],"mark":{"type":"line","strokeWidth":2},"encoding":{"stroke":{"field":"fire","type":"nominal","title":null}}},
    {"transform":[{"filter":"datum.kind=='extrap'"}],"mark":{"type":"line","strokeWidth":2,"strokeDash":[7,4]},"encoding":{"stroke":{"field":"fire","type":"nominal","title":null}}},
    {"transform":[{"filter":"datum.kind=='point'"}],"mark":{"type":"point","filled":true,"size":60,"opacity":1},"encoding":{"fill":{"field":"fire","type":"nominal","legend":null}}}]},
  {"width":139,"height":139,"data":{"name":"forbs196"},"title":{"text":"19.6","offset":12},
   "encoding":{"x":{"field":"w","type":"quantitative","scale":{"domain":[0,100],"nice":false},"axis":{"labels":false,"ticks":false,"title":null}},
    "y":{"field":"d","type":"quantitative","scale":{"domain":[0,1.2],"nice":false},"axis":{"labels":false,"ticks":false,"title":null,"domainColor":"#7a7a7a","domainWidth":1}}},
   "layer":[
    {"data":{"values":[{}]},"mark":{"type":"rule","color":"#7a7a7a","strokeWidth":1},"encoding":{"x":{"datum":0},"x2":{"datum":100},"y":{"datum":1.2}}},
    {"transform":[{"filter":"datum.kind=='fit'"}],"mark":{"type":"line","strokeWidth":2},"encoding":{"stroke":{"field":"fire","type":"nominal","title":null}}},
    {"transform":[{"filter":"datum.kind=='extrap'"}],"mark":{"type":"line","strokeWidth":2,"strokeDash":[7,4]},"encoding":{"stroke":{"field":"fire","type":"nominal","title":null}}},
    {"transform":[{"filter":"datum.kind=='point'"}],"mark":{"type":"point","filled":true,"size":60,"opacity":1},"encoding":{"fill":{"field":"fire","type":"nominal","legend":null}}}]},
  {"width":139,"height":139,"data":{"name":"forbs210"},"title":{"text":"21.0","offset":12},
   "encoding":{"x":{"field":"w","type":"quantitative","scale":{"domain":[0,100],"nice":false},"axis":{"labels":false,"ticks":false,"title":null}},
    "y":{"field":"d","type":"quantitative","scale":{"domain":[0,1.2],"nice":false},"axis":{"labels":false,"ticks":false,"title":null,"domainColor":"#7a7a7a","domainWidth":1}}},
   "layer":[
    {"data":{"values":[{}]},"mark":{"type":"rule","color":"#7a7a7a","strokeWidth":1},"encoding":{"x":{"datum":0},"x2":{"datum":100},"y":{"datum":1.2}}},
    {"transform":[{"filter":"datum.kind=='fit'"}],"mark":{"type":"line","strokeWidth":2},"encoding":{"stroke":{"field":"fire","type":"nominal","title":null}}},
    {"transform":[{"filter":"datum.kind=='extrap'"}],"mark":{"type":"line","strokeWidth":2,"strokeDash":[7,4]},"encoding":{"stroke":{"field":"fire","type":"nominal","title":null}}},
    {"transform":[{"filter":"datum.kind=='point'"}],"mark":{"type":"point","filled":true,"size":60,"opacity":1},"encoding":{"fill":{"field":"fire","type":"nominal","legend":null}}}]},
  {"width":139,"height":139,"data":{"name":"forbs297"},"title":{"text":"29.7","offset":12},
   "encoding":{"x":{"field":"w","type":"quantitative","scale":{"domain":[0,100],"nice":false},"axis":{"labels":false,"ticks":false,"title":null}},
    "y":{"field":"d","type":"quantitative","scale":{"domain":[0,1.2],"nice":false},"axis":{"labels":false,"ticks":false,"title":null,"domainColor":"#7a7a7a","domainWidth":1}}},
   "layer":[
    {"data":{"values":[{}]},"mark":{"type":"rule","color":"#7a7a7a","strokeWidth":1},"encoding":{"x":{"datum":0},"x2":{"datum":100},"y":{"datum":1.2}}},
    {"transform":[{"filter":"datum.kind=='fit'"}],"mark":{"type":"line","strokeWidth":2},"encoding":{"stroke":{"field":"fire","type":"nominal","title":null}}},
    {"transform":[{"filter":"datum.kind=='extrap'"}],"mark":{"type":"line","strokeWidth":2,"strokeDash":[7,4]},"encoding":{"stroke":{"field":"fire","type":"nominal","title":null}}},
    {"transform":[{"filter":"datum.kind=='point'"}],"mark":{"type":"point","filled":true,"size":60,"opacity":1},"encoding":{"fill":{"field":"fire","type":"nominal","legend":null}}}]},
  {"width":139,"height":139,"data":{"name":"forbs412"},"title":{"text":"41.2","offset":12},
   "encoding":{"x":{"field":"w","type":"quantitative","scale":{"domain":[0,100],"nice":false},"axis":{"labels":false,"ticks":false,"title":null}},
    "y":{"field":"d","type":"quantitative","scale":{"domain":[0,1.2],"nice":false},"axis":{"labels":false,"ticks":false,"title":null,"domainColor":"#7a7a7a","domainWidth":1}}},
   "layer":[
    {"data":{"values":[{}]},"mark":{"type":"rule","color":"#7a7a7a","strokeWidth":1},"encoding":{"x":{"datum":0},"x2":{"datum":100},"y":{"datum":1.2}}},
    {"data":{"values":[{}]},"mark":{"type":"rule","color":"#7a7a7a","strokeWidth":1},"encoding":{"x":{"datum":100},"y":{"datum":0},"y2":{"datum":1.2}}},
    {"transform":[{"filter":"datum.kind=='fit'"}],"mark":{"type":"line","strokeWidth":2},"encoding":{"stroke":{"field":"fire","type":"nominal","title":null}}},
    {"transform":[{"filter":"datum.kind=='extrap'"}],"mark":{"type":"line","strokeWidth":2,"strokeDash":[7,4]},"encoding":{"stroke":{"field":"fire","type":"nominal","title":null}}},
    {"transform":[{"filter":"datum.kind=='point'"}],"mark":{"type":"point","filled":true,"size":60,"opacity":1},"encoding":{"fill":{"field":"fire","type":"nominal","legend":null}}}]},
  {"width":1,"height":139,"data":{"values":[{"label":"Green forbs"}]},"mark":{"type":"text","align":"left","baseline":"middle","dx":41,"fontSize":15,"color":"#000000"},"encoding":{"text":{"field":"label"}}},
  {"width":139,"height":139,"data":{"name":"mixed96"},
   "encoding":{"x":{"field":"w","type":"quantitative","scale":{"domain":[0,100],"nice":false},"axis":{"labels":false,"ticks":false,"title":null}},
    "y":{"field":"d","type":"quantitative","scale":{"domain":[0,1.2],"nice":false},"axis":{"values":[0,0.2,0.4,0.6,0.8,1],"labelExpr":"indexof(['0.0','0.4','0.8','1.2'],format(datum.value,'.1f'))>=0?format(datum.value,'.1f'):''","title":"Patch density (patches m⁻²)","titlePadding":40,"labelPadding":9}}},
   "layer":[
    {"transform":[{"filter":"datum.kind=='fit'"}],"mark":{"type":"line","strokeWidth":2},"encoding":{"stroke":{"field":"fire","type":"nominal","title":null}}},
    {"transform":[{"filter":"datum.kind=='extrap'"}],"mark":{"type":"line","strokeWidth":2,"strokeDash":[7,4]},"encoding":{"stroke":{"field":"fire","type":"nominal","title":null}}},
    {"transform":[{"filter":"datum.kind=='point'"}],"mark":{"type":"point","filled":true,"size":60,"opacity":1},"encoding":{"fill":{"field":"fire","type":"nominal","legend":null}}}]},
  {"width":139,"height":139,"data":{"name":"mixed120"},
   "encoding":{"x":{"field":"w","type":"quantitative","scale":{"domain":[0,100],"nice":false},"axis":{"labels":false,"ticks":false,"title":null}},
    "y":{"field":"d","type":"quantitative","scale":{"domain":[0,1.2],"nice":false},"axis":{"labels":false,"ticks":false,"title":null,"domainColor":"#7a7a7a","domainWidth":1}}},
   "layer":[
    {"transform":[{"filter":"datum.kind=='fit'"}],"mark":{"type":"line","strokeWidth":2},"encoding":{"stroke":{"field":"fire","type":"nominal","title":null}}},
    {"transform":[{"filter":"datum.kind=='extrap'"}],"mark":{"type":"line","strokeWidth":2,"strokeDash":[7,4]},"encoding":{"stroke":{"field":"fire","type":"nominal","title":null}}},
    {"transform":[{"filter":"datum.kind=='point'"}],"mark":{"type":"point","filled":true,"size":60,"opacity":1},"encoding":{"fill":{"field":"fire","type":"nominal","legend":null}}}]},
  {"width":139,"height":139,"data":{"name":"mixed196"},
   "encoding":{"x":{"field":"w","type":"quantitative","scale":{"domain":[0,100],"nice":false},"axis":{"labels":false,"ticks":false,"title":null}},
    "y":{"field":"d","type":"quantitative","scale":{"domain":[0,1.2],"nice":false},"axis":{"labels":false,"ticks":false,"title":null,"domainColor":"#7a7a7a","domainWidth":1}}},
   "layer":[
    {"transform":[{"filter":"datum.kind=='fit'"}],"mark":{"type":"line","strokeWidth":2},"encoding":{"stroke":{"field":"fire","type":"nominal","title":null}}},
    {"transform":[{"filter":"datum.kind=='extrap'"}],"mark":{"type":"line","strokeWidth":2,"strokeDash":[7,4]},"encoding":{"stroke":{"field":"fire","type":"nominal","title":null}}},
    {"transform":[{"filter":"datum.kind=='point'"}],"mark":{"type":"point","filled":true,"size":60,"opacity":1},"encoding":{"fill":{"field":"fire","type":"nominal","legend":null}}}]},
  {"width":139,"height":139,"data":{"name":"mixed210"},
   "encoding":{"x":{"field":"w","type":"quantitative","scale":{"domain":[0,100],"nice":false},"axis":{"labels":false,"ticks":false,"title":null}},
    "y":{"field":"d","type":"quantitative","scale":{"domain":[0,1.2],"nice":false},"axis":{"labels":false,"ticks":false,"title":null,"domainColor":"#7a7a7a","domainWidth":1}}},
   "layer":[
    {"transform":[{"filter":"datum.kind=='fit'"}],"mark":{"type":"line","strokeWidth":2},"encoding":{"stroke":{"field":"fire","type":"nominal","title":null}}},
    {"transform":[{"filter":"datum.kind=='extrap'"}],"mark":{"type":"line","strokeWidth":2,"strokeDash":[7,4]},"encoding":{"stroke":{"field":"fire","type":"nominal","title":null}}},
    {"transform":[{"filter":"datum.kind=='point'"}],"mark":{"type":"point","filled":true,"size":60,"opacity":1},"encoding":{"fill":{"field":"fire","type":"nominal","legend":null}}}]},
  {"width":139,"height":139,"data":{"name":"mixed297"},
   "encoding":{"x":{"field":"w","type":"quantitative","scale":{"domain":[0,100],"nice":false},"axis":{"labels":false,"ticks":false,"title":null}},
    "y":{"field":"d","type":"quantitative","scale":{"domain":[0,1.2],"nice":false},"axis":{"labels":false,"ticks":false,"title":null,"domainColor":"#7a7a7a","domainWidth":1}}},
   "layer":[
    {"transform":[{"filter":"datum.kind=='fit'"}],"mark":{"type":"line","strokeWidth":2},"encoding":{"stroke":{"field":"fire","type":"nominal","title":null}}},
    {"transform":[{"filter":"datum.kind=='extrap'"}],"mark":{"type":"line","strokeWidth":2,"strokeDash":[7,4]},"encoding":{"stroke":{"field":"fire","type":"nominal","title":null}}},
    {"transform":[{"filter":"datum.kind=='point'"}],"mark":{"type":"point","filled":true,"size":60,"opacity":1},"encoding":{"fill":{"field":"fire","type":"nominal","legend":null}}}]},
  {"width":139,"height":139,"data":{"name":"mixed412"},
   "encoding":{"x":{"field":"w","type":"quantitative","scale":{"domain":[0,100],"nice":false},"axis":{"labels":false,"ticks":false,"title":null}},
    "y":{"field":"d","type":"quantitative","scale":{"domain":[0,1.2],"nice":false},"axis":{"labels":false,"ticks":false,"title":null,"domainColor":"#7a7a7a","domainWidth":1}}},
   "layer":[
    {"data":{"values":[{}]},"mark":{"type":"rule","color":"#7a7a7a","strokeWidth":1},"encoding":{"x":{"datum":100},"y":{"datum":0},"y2":{"datum":1.2}}},
    {"transform":[{"filter":"datum.kind=='fit'"}],"mark":{"type":"line","strokeWidth":2},"encoding":{"stroke":{"field":"fire","type":"nominal","title":null}}},
    {"transform":[{"filter":"datum.kind=='extrap'"}],"mark":{"type":"line","strokeWidth":2,"strokeDash":[7,4]},"encoding":{"stroke":{"field":"fire","type":"nominal","title":null}}},
    {"transform":[{"filter":"datum.kind=='point'"}],"mark":{"type":"point","filled":true,"size":60,"opacity":1},"encoding":{"fill":{"field":"fire","type":"nominal","legend":null}}}]},
  {"width":1,"height":139,"data":{"values":[{"label":"Mixed grass"}]},"mark":{"type":"text","align":"left","baseline":"middle","dx":41,"fontSize":15,"color":"#000000"},"encoding":{"text":{"field":"label"}}},
  {"width":139,"height":139,"data":{"name":"grass96"},
   "encoding":{"x":{"field":"w","type":"quantitative","scale":{"domain":[0,100],"nice":false},"axis":{"values":[0,50,100],"title":null,"labelPadding":15}},
    "y":{"field":"d","type":"quantitative","scale":{"domain":[0,1.2],"nice":false},"axis":{"values":[0,0.2,0.4,0.6,0.8,1],"labelExpr":"indexof(['0.0','0.4','0.8','1.2'],format(datum.value,'.1f'))>=0?format(datum.value,'.1f'):''","title":null,"labelPadding":9}}},
   "layer":[
    {"transform":[{"filter":"datum.kind=='fit'"}],"mark":{"type":"line","strokeWidth":2},"encoding":{"stroke":{"field":"fire","type":"nominal","title":null}}},
    {"transform":[{"filter":"datum.kind=='extrap'"}],"mark":{"type":"line","strokeWidth":2,"strokeDash":[7,4]},"encoding":{"stroke":{"field":"fire","type":"nominal","title":null}}},
    {"transform":[{"filter":"datum.kind=='point'"}],"mark":{"type":"point","filled":true,"size":60,"opacity":1},"encoding":{"fill":{"field":"fire","type":"nominal","legend":null}}}]},
  {"width":139,"height":139,"data":{"name":"grass120"},
   "encoding":{"x":{"field":"w","type":"quantitative","scale":{"domain":[0,100],"nice":false},"axis":{"values":[0,50,100],"labelExpr":"datum.value==0?'':datum.label","title":null,"labelPadding":15}},
    "y":{"field":"d","type":"quantitative","scale":{"domain":[0,1.2],"nice":false},"axis":{"labels":false,"ticks":false,"title":null,"domainColor":"#7a7a7a","domainWidth":1}}},
   "layer":[
    {"transform":[{"filter":"datum.kind=='fit'"}],"mark":{"type":"line","strokeWidth":2},"encoding":{"stroke":{"field":"fire","type":"nominal","title":null}}},
    {"transform":[{"filter":"datum.kind=='extrap'"}],"mark":{"type":"line","strokeWidth":2,"strokeDash":[7,4]},"encoding":{"stroke":{"field":"fire","type":"nominal","title":null}}},
    {"transform":[{"filter":"datum.kind=='point'"}],"mark":{"type":"point","filled":true,"size":60,"opacity":1},"encoding":{"fill":{"field":"fire","type":"nominal","legend":null}}}]},
  {"width":139,"height":139,"data":{"name":"grass196"},
   "encoding":{"x":{"field":"w","type":"quantitative","scale":{"domain":[0,100],"nice":false},"axis":{"values":[0,50,100],"labelExpr":"datum.value==0?'':datum.label","title":"Water in top 30 cm of soil (mm)","titleX":139,"titleAlign":"center","titlePadding":19,"labelPadding":15}},
    "y":{"field":"d","type":"quantitative","scale":{"domain":[0,1.2],"nice":false},"axis":{"labels":false,"ticks":false,"title":null,"domainColor":"#7a7a7a","domainWidth":1}}},
   "layer":[
    {"transform":[{"filter":"datum.kind=='fit'"}],"mark":{"type":"line","strokeWidth":2},"encoding":{"stroke":{"field":"fire","type":"nominal","title":null}}},
    {"transform":[{"filter":"datum.kind=='extrap'"}],"mark":{"type":"line","strokeWidth":2,"strokeDash":[7,4]},"encoding":{"stroke":{"field":"fire","type":"nominal","title":null}}},
    {"transform":[{"filter":"datum.kind=='point'"}],"mark":{"type":"point","filled":true,"size":60,"opacity":1},"encoding":{"fill":{"field":"fire","type":"nominal","legend":null}}}]},
  {"width":139,"height":139,"data":{"name":"grass210"},
   "encoding":{"x":{"field":"w","type":"quantitative","scale":{"domain":[0,100],"nice":false},"axis":{"values":[0,50,100],"labelExpr":"datum.value==0?'':datum.label","title":null,"labelPadding":15}},
    "y":{"field":"d","type":"quantitative","scale":{"domain":[0,1.2],"nice":false},"axis":{"labels":false,"ticks":false,"title":null,"domainColor":"#7a7a7a","domainWidth":1}}},
   "layer":[
    {"transform":[{"filter":"datum.kind=='fit'"}],"mark":{"type":"line","strokeWidth":2},"encoding":{"stroke":{"field":"fire","type":"nominal","title":null}}},
    {"transform":[{"filter":"datum.kind=='extrap'"}],"mark":{"type":"line","strokeWidth":2,"strokeDash":[7,4]},"encoding":{"stroke":{"field":"fire","type":"nominal","title":null}}},
    {"transform":[{"filter":"datum.kind=='point'"}],"mark":{"type":"point","filled":true,"size":60,"opacity":1},"encoding":{"fill":{"field":"fire","type":"nominal","legend":null}}}]},
  {"width":139,"height":139,"data":{"name":"grass297"},
   "encoding":{"x":{"field":"w","type":"quantitative","scale":{"domain":[0,100],"nice":false},"axis":{"values":[0,50,100],"labelExpr":"datum.value==0?'':datum.label","title":null,"labelPadding":15}},
    "y":{"field":"d","type":"quantitative","scale":{"domain":[0,1.2],"nice":false},"axis":{"labels":false,"ticks":false,"title":null,"domainColor":"#7a7a7a","domainWidth":1}}},
   "layer":[
    {"transform":[{"filter":"datum.kind=='fit'"}],"mark":{"type":"line","strokeWidth":2},"encoding":{"stroke":{"field":"fire","type":"nominal","title":null}}},
    {"transform":[{"filter":"datum.kind=='extrap'"}],"mark":{"type":"line","strokeWidth":2,"strokeDash":[7,4]},"encoding":{"stroke":{"field":"fire","type":"nominal","title":null}}},
    {"transform":[{"filter":"datum.kind=='point'"}],"mark":{"type":"point","filled":true,"size":60,"opacity":1},"encoding":{"fill":{"field":"fire","type":"nominal","legend":null}}}]},
  {"width":139,"height":139,"data":{"name":"grass412"},
   "encoding":{"x":{"field":"w","type":"quantitative","scale":{"domain":[0,100],"nice":false},"axis":{"values":[0,50,100],"labelExpr":"datum.value==0?'':datum.label","title":null,"labelPadding":15}},
    "y":{"field":"d","type":"quantitative","scale":{"domain":[0,1.2],"nice":false},"axis":{"labels":false,"ticks":false,"title":null,"domainColor":"#7a7a7a","domainWidth":1}}},
   "layer":[
    {"data":{"values":[{}]},"mark":{"type":"rule","color":"#7a7a7a","strokeWidth":1},"encoding":{"x":{"datum":100},"y":{"datum":0},"y2":{"datum":1.2}}},
    {"transform":[{"filter":"datum.kind=='fit'"}],"mark":{"type":"line","strokeWidth":2},"encoding":{"stroke":{"field":"fire","type":"nominal","title":null}}},
    {"transform":[{"filter":"datum.kind=='extrap'"}],"mark":{"type":"line","strokeWidth":2,"strokeDash":[7,4]},"encoding":{"stroke":{"field":"fire","type":"nominal","title":null}}},
    {"transform":[{"filter":"datum.kind=='point'"}],"mark":{"type":"point","filled":true,"size":60,"opacity":1},"encoding":{"fill":{"field":"fire","type":"nominal","legend":null}}}]},
  {"width":1,"height":139,"data":{"values":[{"label":"Green grass"}]},"mark":{"type":"text","align":"left","baseline":"middle","dx":41,"fontSize":15,"color":"#000000"},"encoding":{"text":{"field":"label"}}}
]
}
